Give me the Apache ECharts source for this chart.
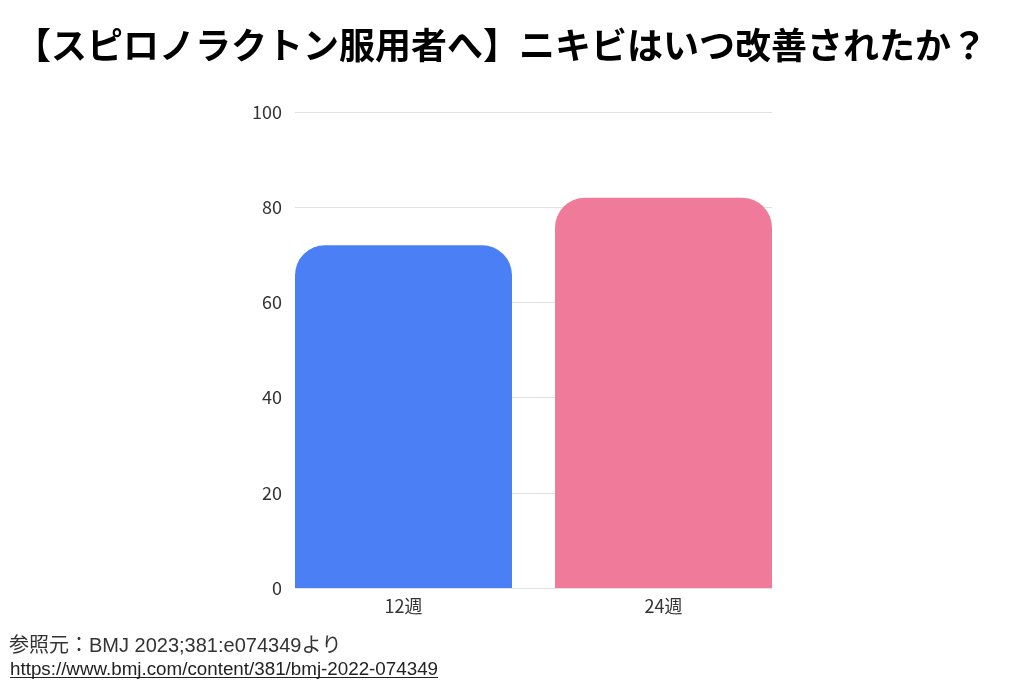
<!DOCTYPE html>
<html><head><meta charset="utf-8">
<script src="https://cdn.jsdelivr.net/npm/echarts@6/dist/echarts.min.js"></script>
<style>html,body{margin:0;padding:0;background:#fff}#c{width:1024px;height:683px}</style>
</head><body><div id="c"></div>
<script>
const titleText = '【スピロノラクトン服用者へ】ニキビはいつ改善されたか？';
const categories = ['12週', '24週'];
const values = [72, 82];
const barColors = ['#4a7ff6', '#ef7a99'];
const yTicks = [0, 20, 40, 60, 80, 100];
const sourceText = '参照元：BMJ 2023;381:e074349より';
const urlText = 'https://www.bmj.com/content/381/bmj-2022-074349';

const chart = echarts.init(document.getElementById('c'), null, {renderer: 'canvas'});
const fontJP = '"Noto Sans CJK JP", "Noto Sans", sans-serif';
chart.setOption({
  animation: false,
  backgroundColor: '#fff',
  title: {
    text: titleText, left: 10, top: 22,
    textStyle: {fontFamily: fontJP, fontWeight: 'bold', fontSize: 36, color: '#000'}
  },
  grid: [
    {left: 295, right: 252, top: 112, bottom: 95},
    {left: 273.5, right: 230.5, top: 112, bottom: 95}
  ],
  xAxis: [
    {gridIndex: 0, type: 'category', data: categories, show: false},
    {gridIndex: 1, type: 'category', data: categories,
     axisLine: {show: false}, axisTick: {show: false},
     axisLabel: {fontFamily: fontJP, fontSize: 18, color: '#333', margin: 9}}
  ],
  yAxis: [
    {gridIndex: 0, type: 'value', min: yTicks[0], max: yTicks[yTicks.length-1], interval: 20,
     axisLine: {show: false}, axisTick: {show: false},
     axisLabel: {fontFamily: fontJP, fontSize: 18, color: '#333', margin: 13},
     splitLine: {lineStyle: {color: '#e2e2e2', width: 1}}},
    {gridIndex: 1, type: 'value', min: 0, max: 100, interval: 20, show: false, splitLine: {show: false}}
  ],
  series: [{
    type: 'bar', xAxisIndex: 1, yAxisIndex: 1,
    barWidth: 217,
    data: values.map((v, i) => ({value: v, itemStyle: {color: barColors[i]}})),
    itemStyle: {borderRadius: [30, 30, 0, 0]}
  }],
  graphic: [
    {type: 'text', left: 9, top: 636,
     style: {text: sourceText, font: '20px "Liberation Sans", "Noto Sans CJK JP", sans-serif', fill: '#333'}},
    {type: 'text', left: 10, top: 660,
     style: {text: urlText, font: '18.8px "Liberation Sans", Arial, sans-serif', fill: '#222'}},
    {type: 'line', shape: {x1: 10, y1: 677.5, x2: 438, y2: 677.5}, style: {stroke: '#222', lineWidth: 1}}
  ]
});
</script></body></html>
